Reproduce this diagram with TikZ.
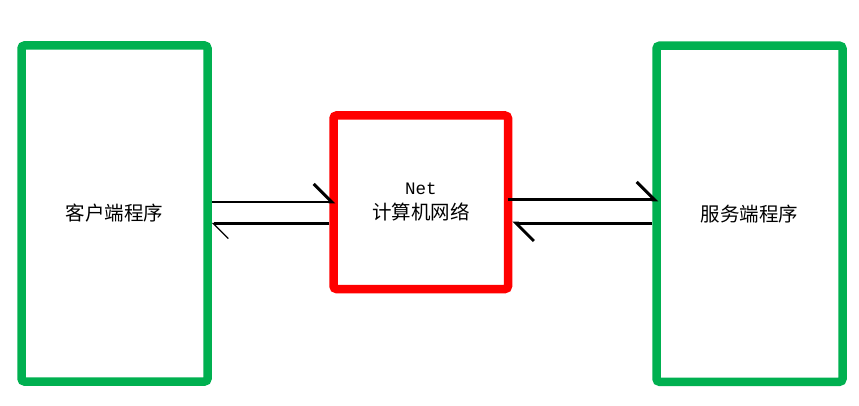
\documentclass[tikz,border=0pt]{standalone}
\usepackage{fontspec}
\setmainfont{Noto Sans CJK SC}
\newfontfamily\netmono{Liberation Mono}
\usetikzlibrary{arrows.meta}

\newlength{\du}
\setlength{\du}{1pt}

\definecolor{progcolor}{rgb}{0.000000, 0.690000, 0.314000}
\definecolor{netcolor}{rgb}{1.000000, 0.000000, 0.000000}

\tikzset{
  progbox/.style={draw=progcolor, line width=8.5\du, rounded corners=3\du,
    minimum width=186\du, minimum height=336\du, font=\fontsize{19.5}{25}\selectfont},
  netbox/.style={draw=netcolor, line width=8.5\du, rounded corners=3\du,
    minimum width=174.5\du, minimum height=173.5\du, align=center,
    font=\fontsize{19.5}{25}\selectfont},
  half/.style={-{Straight Barb[left, length=18pt, width=36pt, line width=3pt]}},
  halfthin/.style={-{Straight Barb[left, length=15pt, width=30pt, line width=1.3pt]}},
  wire/.style={black, line width=3\du}
}

\begin{document}
\begin{tikzpicture}[x=\du, y=-\du]
\useasboundingbox (0,0) rectangle (859,406);
% the two programs and the network between them
\node[progbox] (client) at (114.5,213.5) {客户端程序};
\node[netbox] (net) at (420.75,202.25) {{\fontsize{17.5}{25}\netmono Net}\\计算机网络};
\node[progbox] (server) at (749.5,213.75) {服务端程序};
% client <-> net
\draw[wire, line width=2\du, half, shorten >=-6\du] ([yshift=11.5\du]client.east) -- ([yshift=11.5\du]client.east -| net.west);
\draw[wire, halfthin] ([yshift=-10\du]client.east -| net.west) -- ([yshift=-10\du]client.east);
% net <-> server
\draw[wire, half, shorten <=-4\du, shorten >=-6\du] ([yshift=2.25\du]net.east) -- ([yshift=2.25\du]net.east -| server.west);
\draw[wire, half] ([yshift=-20.75\du]net.east -| server.west) -- ([yshift=-20.75\du]net.east);
\end{tikzpicture}
\end{document}
